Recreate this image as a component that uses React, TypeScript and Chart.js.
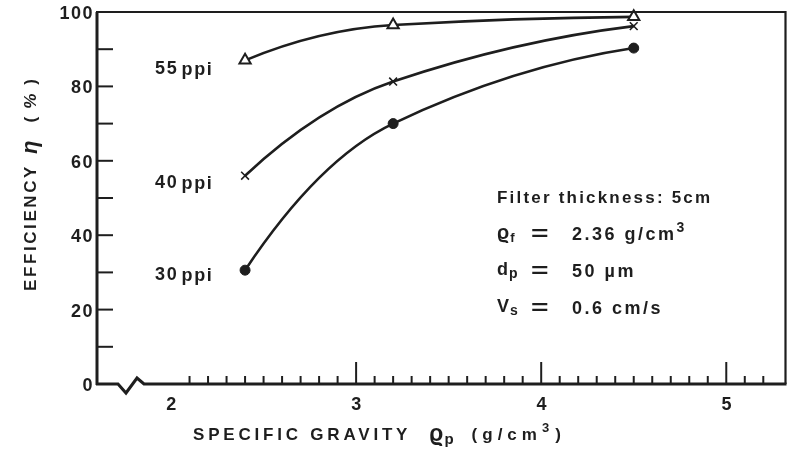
import React, { useEffect, useRef } from 'react';
import { Chart, registerables } from 'chart.js';

Chart.register(...registerables);

// ---- data ----
const gravity: number[] = [2.4, 3.2, 4.5];
const eff55: number[] = [87, 96.5, 98.7];
const eff40: number[] = [56, 81.3, 96.2];
const eff30: number[] = [30.6, 70, 90.3];
const seriesNames: string[] = ['55 ppi', '40 ppi', '30 ppi'];
const xTickValues: number[] = [2, 3, 4, 5];
const yTickValues: number[] = [0, 20, 40, 60, 80, 100];
const xMin = 1.6;
const xMax = 5.32;
const yMin = 0;
const yMax = 100;

const INK = '#1e1e1e';
const FAMILY = '"Liberation Sans", Arial, Helvetica, sans-serif';

type Run = { t: string; size?: number; dy?: number; italic?: boolean; spacing?: number; gap?: number; sx?: number };

function font(size: number, italic?: boolean) {
  return `${italic ? 'italic ' : ''}bold ${size}px ${FAMILY}`;
}

function drawRuns(ctx: CanvasRenderingContext2D, runs: Run[], x: number, y: number) {
  let cx = x;
  for (const r of runs) {
    if (r.gap) cx += r.gap;
    ctx.font = font(r.size ?? 17, r.italic);
    (ctx as any).letterSpacing = `${r.spacing ?? 2}px`;
    ctx.textAlign = 'left';
    ctx.textBaseline = 'middle';
    const sx = r.sx ?? 1;
    ctx.save();
    ctx.translate(cx, y + (r.dy ?? 0));
    ctx.scale(sx, 1);
    ctx.fillText(r.t, 0, 0);
    ctx.restore();
    cx += ctx.measureText(r.t).width * sx;
  }
  (ctx as any).letterSpacing = '0px';
  return cx;
}

// smooth concave tangents: harmonic-mean slope inside, parabolic end conditions
const smoothPlugin = {
  id: 'smoothTangents',
  beforeDatasetDraw(chart: any, args: any) {
    const meta = args.meta;
    const line = meta.dataset;
    if (!line) return;
    line.updateControlPoints(chart.chartArea, 'x');
    const pts = meta.data;
    const n = pts.length;
    if (n < 2) return;
    const s: number[] = [];
    for (let i = 0; i < n - 1; i++) {
      s.push((pts[i + 1].y - pts[i].y) / (pts[i + 1].x - pts[i].x));
    }
    const m: number[] = new Array(n).fill(0);
    for (let i = 1; i < n - 1; i++) {
      const a = s[i - 1], b = s[i];
      m[i] = a * b > 0 ? (2 * a * b) / (a + b) : 0;
    }
    m[0] = n > 2 ? 2 * s[0] - m[1] : s[0];
    m[n - 1] = n > 2 ? 2 * s[n - 2] - m[n - 2] : s[0];
    for (let i = 0; i < n; i++) {
      const p = pts[i];
      if (i > 0) {
        const h = (p.x - pts[i - 1].x) / 3;
        p.cp1x = p.x - h;
        p.cp1y = p.y - m[i] * h;
      }
      if (i < n - 1) {
        const h = (pts[i + 1].x - p.x) / 3;
        p.cp2x = p.x + h;
        p.cp2y = p.y + m[i] * h;
      }
    }
  },
};

const decorPlugin = {
  id: 'decor',
  afterDraw(chart: any) {
    const ctx: CanvasRenderingContext2D = chart.ctx;
    const { left, right, top, bottom } = chart.chartArea;
    const xs = chart.scales.x;
    const ys = chart.scales.y;
    ctx.save();
    ctx.strokeStyle = INK;
    ctx.fillStyle = INK;
    ctx.lineCap = 'butt';

    // frame: left, top, right
    ctx.lineWidth = 3;
    ctx.beginPath();
    ctx.moveTo(left, bottom + 1);
    ctx.lineTo(left, top);
    ctx.stroke();
    ctx.lineWidth = 2.2;
    ctx.beginPath();
    ctx.moveTo(left - 1, top);
    ctx.lineTo(right, top);
    ctx.lineTo(right, bottom);
    ctx.stroke();

    // bottom axis with break
    ctx.lineWidth = 3;
    ctx.lineJoin = 'miter';
    ctx.beginPath();
    ctx.moveTo(left - 1, bottom);
    ctx.lineTo(left + 21, bottom);
    ctx.lineTo(left + 29, bottom + 9);
    ctx.lineTo(left + 40, bottom - 6);
    ctx.lineTo(left + 47, bottom);
    ctx.lineTo(right + 1, bottom);
    ctx.stroke();

    // x ticks (inward)
    ctx.lineWidth = 2;
    for (let i = 21; i <= 52; i++) {
      const v = i / 10;
      const px = xs.getPixelForValue(v);
      const major = i % 10 === 0;
      ctx.beginPath();
      ctx.moveTo(px, bottom);
      ctx.lineTo(px, bottom - (major ? 22 : 8));
      ctx.stroke();
    }
    // y ticks (inward)
    for (let v = 10; v <= 90; v += 10) {
      const py = ys.getPixelForValue(v);
      ctx.beginPath();
      ctx.moveTo(left, py);
      ctx.lineTo(left + 16, py);
      ctx.stroke();
    }

    // tick labels
    ctx.font = font(18);
    (ctx as any).letterSpacing = '1.5px';
    ctx.textBaseline = 'middle';
    ctx.textAlign = 'right';
    for (const v of yTickValues) {
      ctx.fillText(String(v), left - 3, ys.getPixelForValue(v) + 2);
    }
    ctx.textAlign = 'center';
    for (const v of xTickValues) {
      ctx.fillText(String(v), xs.getPixelForValue(v) + 1, bottom + 21);
    }
    (ctx as any).letterSpacing = '0px';

    // series labels
    const lblX = 155;
    const ySeries = [eff55, eff40, eff30];
    const lblDy = [9, 7, 5];
    ySeries.forEach((arr, i) => {
      const py = ys.getPixelForValue(arr[0]) + lblDy[i];
      const [num, unit] = seriesNames[i].split(' ');
      drawRuns(ctx, [
        { t: num, size: 18, spacing: 1.8 },
        { t: unit, size: 18, spacing: 1.6, gap: 3, dy: 1 },
      ], lblX, py);
    });

    // annotation block
    const ax = 497;
    drawRuns(ctx, [{ t: 'Filter thickness: 5cm', size: 17, spacing: 2.2 }], ax, 198);
    const eqX = 531;
    const valX = 572;
    const eq: Run = { t: '=', size: 20, spacing: 0, sx: 1.5 };
    // rho_f
    drawRuns(ctx, [{ t: 'ϱ', size: 20, spacing: 0 }, { t: 'f', size: 13, dy: 5, spacing: 0, gap: 1 }], ax, 233);
    drawRuns(ctx, [eq], eqX, 234);
    drawRuns(ctx, [{ t: '2.36 g/cm', size: 18, spacing: 2.5 }, { t: '3', size: 14, dy: -7, spacing: 0 }], valX, 235);
    // d_p
    drawRuns(ctx, [{ t: 'd', size: 18, spacing: 0 }, { t: 'p', size: 14, dy: 4, spacing: 0, gap: 1 }], ax, 270);
    drawRuns(ctx, [eq], eqX, 271);
    drawRuns(ctx, [{ t: '50 µm', size: 18, spacing: 2.5 }], valX, 272);
    // V_s
    drawRuns(ctx, [{ t: 'V', size: 18, spacing: 0 }, { t: 's', size: 14, dy: 4, spacing: 0, gap: 1 }], ax, 307);
    drawRuns(ctx, [eq], eqX, 308);
    drawRuns(ctx, [{ t: '0.6 cm/s', size: 18, spacing: 2.5 }], valX, 309);

    // x-axis title
    const ty = 435;
    const cx = drawRuns(ctx, [{ t: 'SPECIFIC GRAVITY', size: 17, spacing: 3.8 }], 193, ty);
    drawRuns(ctx, [
      { t: 'ϱ', size: 23, gap: 18, spacing: 0 },
      { t: 'p', size: 15, dy: 5, spacing: 0, gap: 1 },
      { t: '(g/cm', size: 17, spacing: 5, gap: 18 },
      { t: '3', size: 13, dy: -7, spacing: 0 },
      { t: ')', size: 17, spacing: 0, gap: 6 },
    ], cx, ty);

    // y-axis title (rotated)
    ctx.save();
    ctx.translate(31, 291);
    ctx.rotate(-Math.PI / 2);
    drawRuns(ctx, [
      { t: 'EFFICIENCY', size: 17, spacing: 2.6 },
      { t: 'η', size: 22, italic: true, spacing: 0, gap: 10 },
      { t: '(', size: 17, spacing: 0, gap: 18 },
      { t: '%', size: 17, italic: true, spacing: 0, gap: 8 },
      { t: ')', size: 17, spacing: 0, gap: 9 },
    ], 0, 0);
    ctx.restore();

    ctx.restore();
  },
};

export default function App() {
  const ref = useRef<HTMLCanvasElement | null>(null);

  useEffect(() => {
    if (!ref.current) return;
    const mk = (ys: number[]) => gravity.map((g, i) => ({ x: g, y: ys[i] }));
    const common = {
      borderColor: INK,
      borderWidth: 2.6,
      tension: 0.4,
      clip: false as any,
      pointBorderColor: INK,
    };
    const chart = new Chart(ref.current, {
      type: 'line',
      data: {
        datasets: [
          {
            ...common,
            label: seriesNames[0],
            data: mk(eff55),
            pointStyle: 'triangle',
            pointRadius: 6.5,
            pointBorderWidth: 2,
            pointBackgroundColor: '#ffffff',
          },
          {
            ...common,
            label: seriesNames[1],
            data: mk(eff40),
            pointStyle: 'crossRot',
            pointRadius: 5.5,
            pointBorderWidth: 1.6,
            pointBackgroundColor: INK,
          },
          {
            ...common,
            label: seriesNames[2],
            data: mk(eff30),
            pointStyle: 'circle',
            pointRadius: 5,
            pointBorderWidth: 1,
            pointBackgroundColor: INK,
          },
        ],
      },
      options: {
        animation: false,
        responsive: false,
        devicePixelRatio: 1,
        layout: { padding: { top: 12, right: 8, left: 0, bottom: 0 } },
        plugins: { legend: { display: false }, tooltip: { enabled: false } },
        events: [],
        scales: {
          x: {
            type: 'linear',
            min: xMin,
            max: xMax,
            ticks: { display: false },
            grid: { display: false, drawTicks: false },
            border: { display: false },
            afterFit: (s: any) => { s.height = 74; },
          },
          y: {
            type: 'linear',
            min: yMin,
            max: yMax,
            ticks: { display: false },
            grid: { display: false, drawTicks: false },
            border: { display: false },
            afterFit: (s: any) => { s.width = 97; },
          },
        },
      },
      plugins: [smoothPlugin, decorPlugin],
    });
    return () => chart.destroy();
  }, []);

  return (
    <div style={{ position: 'fixed', left: 0, top: 0, width: 794, height: 458, background: '#fff' }}>
      <canvas ref={ref} width={794} height={458} style={{ width: 794, height: 458, display: 'block' }} />
    </div>
  );
}
